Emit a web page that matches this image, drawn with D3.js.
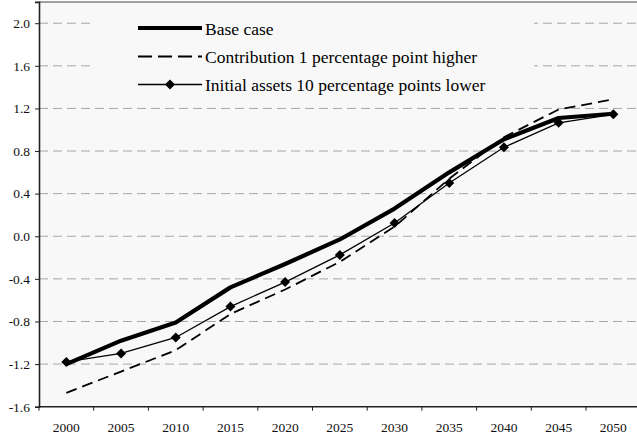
<!DOCTYPE html>
<html>
<head>
<meta charset="utf-8">
<script src="https://cdn.jsdelivr.net/npm/d3@7"></script>
<style>
  html, body { margin: 0; padding: 0; background: #ffffff; }
</style>
</head>
<body>
<svg id="chart" width="637" height="439"></svg>
<script>
// Projection years and the three scenarios
const years = ["2000","2005","2010","2015","2020","2025","2030","2035","2040","2045","2050"];
const baseCase      = [-1.20, -0.98, -0.81, -0.48, -0.26, -0.03, 0.26, 0.60, 0.91, 1.11, 1.15];
const contribution  = [-1.47, -1.27, -1.07, -0.73, -0.50, -0.24, 0.09, 0.54, 0.93, 1.19, 1.285];
const initialAssets = [-1.18, -1.10, -0.95, -0.66, -0.43, -0.175, 0.125, 0.50, 0.835, 1.065, 1.145];
const yTicks = [-1.6, -1.2, -0.8, -0.4, 0.0, 0.4, 0.8, 1.2, 1.6, 2.0];
const seriesNames = ["Base case", "Contribution 1 percentage point higher", "Initial assets 10 percentage points lower"];

const FONT = "'Liberation Serif', 'Times New Roman', serif";
const svg = d3.select("#chart");
const plotLeft = 39, plotRight = 640.7, plotTop = 1.9, plotBottom = 406.7;

const x = d3.scaleBand().domain(years).range([plotLeft, plotRight]).padding(0);
const y = d3.scaleLinear().domain([-1.6, 2.2]).range([plotBottom, plotTop]);
const cx = d => x(d) + x.bandwidth() / 2;

// plot area background
svg.append("rect")
  .attr("x", plotLeft).attr("y", plotTop)
  .attr("width", plotRight - plotLeft).attr("height", plotBottom - plotTop)
  .attr("fill", "#f8f8f8");

// horizontal gridlines
svg.append("g").selectAll("line").data(yTicks.filter(v => v > -1.6)).join("line")
  .attr("x1", plotLeft).attr("x2", plotRight)
  .attr("y1", d => y(d)).attr("y2", d => y(d))
  .attr("stroke", "#a6a6a6").attr("stroke-width", 1)
  .attr("stroke-dasharray", "9,5");

// top border
svg.append("line")
  .attr("x1", plotLeft).attr("x2", plotRight).attr("y1", plotTop).attr("y2", plotTop)
  .attr("stroke", "#808080").attr("stroke-width", 1.5);

// y axis
const yAxis = d3.axisLeft(y).tickValues(yTicks).tickSize(4).tickPadding(5)
  .tickFormat(d => d3.format(".1f")(d).replace("\u2212", "-"));
const gy = svg.append("g").attr("transform", `translate(${plotLeft},0)`).call(yAxis);
gy.select(".domain").attr("stroke", "#222").attr("stroke-width", 1.6);
gy.selectAll(".tick line").attr("stroke", "#222").attr("stroke-width", 1);
gy.selectAll("text").attr("fill", "#111")
  .style("font-family", FONT).style("font-size", "13.5px");

// x axis with ticks at category boundaries
const gx = svg.append("g").attr("transform", `translate(0,${plotBottom})`);
gx.append("line").attr("x1", plotLeft).attr("x2", plotRight).attr("y1", 0).attr("y2", 0)
  .attr("stroke", "#222").attr("stroke-width", 1.6);
gx.selectAll("line.tk").data(years).join("line").attr("class", "tk")
  .attr("x1", d => x(d)).attr("x2", d => x(d)).attr("y1", 0).attr("y2", 4)
  .attr("stroke", "#222").attr("stroke-width", 1);
gx.selectAll("text").data(years).join("text")
  .attr("x", d => cx(d)).attr("y", 25.5)
  .attr("text-anchor", "middle").attr("fill", "#111")
  .style("font-family", FONT).style("font-size", "13.5px")
  .text(d => d);

// legend box
svg.append("rect").attr("x", 90).attr("y", 8).attr("width", 444).attr("height", 95)
  .attr("fill", "#f8f8f8");

const line = d3.line().x((d, i) => cx(years[i])).y(d => y(d));

// series lines
svg.append("path").datum(contribution).attr("d", line)
  .attr("fill", "none").attr("stroke", "#000").attr("stroke-width", 1.8)
  .attr("stroke-dasharray", "11,6");
svg.append("path").datum(initialAssets).attr("d", line)
  .attr("fill", "none").attr("stroke", "#000").attr("stroke-width", 1.3);
svg.append("path").datum(baseCase).attr("d", line)
  .attr("fill", "none").attr("stroke", "#000").attr("stroke-width", 4.2)
  .attr("stroke-linejoin", "round");

const diamond = d3.symbol().type(d3.symbolDiamond2).size(64);
svg.append("g").selectAll("path").data(initialAssets).join("path")
  .attr("transform", (d, i) => `translate(${cx(years[i])},${y(d)})`)
  .attr("d", diamond).attr("fill", "#000");

// legend entries
const lg = svg.append("g");
const lx1 = 138, lx2 = 202, rows = [28, 56.5, 84.5];
lg.append("line").attr("x1", lx1).attr("x2", lx2).attr("y1", rows[0]).attr("y2", rows[0])
  .attr("stroke", "#000").attr("stroke-width", 4.2);
lg.append("line").attr("x1", lx1).attr("x2", lx2).attr("y1", rows[1]).attr("y2", rows[1])
  .attr("stroke", "#000").attr("stroke-width", 1.8).attr("stroke-dasharray", "14,6");
lg.append("line").attr("x1", lx1).attr("x2", lx2).attr("y1", rows[2]).attr("y2", rows[2])
  .attr("stroke", "#000").attr("stroke-width", 1.3);
lg.append("path").attr("transform", `translate(${(lx1 + lx2) / 2},${rows[2]})`)
  .attr("d", diamond).attr("fill", "#000");
lg.selectAll("text").data(seriesNames).join("text")
  .attr("x", 205).attr("y", (d, i) => rows[i] + 6.5)
  .attr("fill", "#000")
  .style("font-family", FONT).style("font-size", "17.5px")
  .text(d => d);
</script>
</body>
</html>
